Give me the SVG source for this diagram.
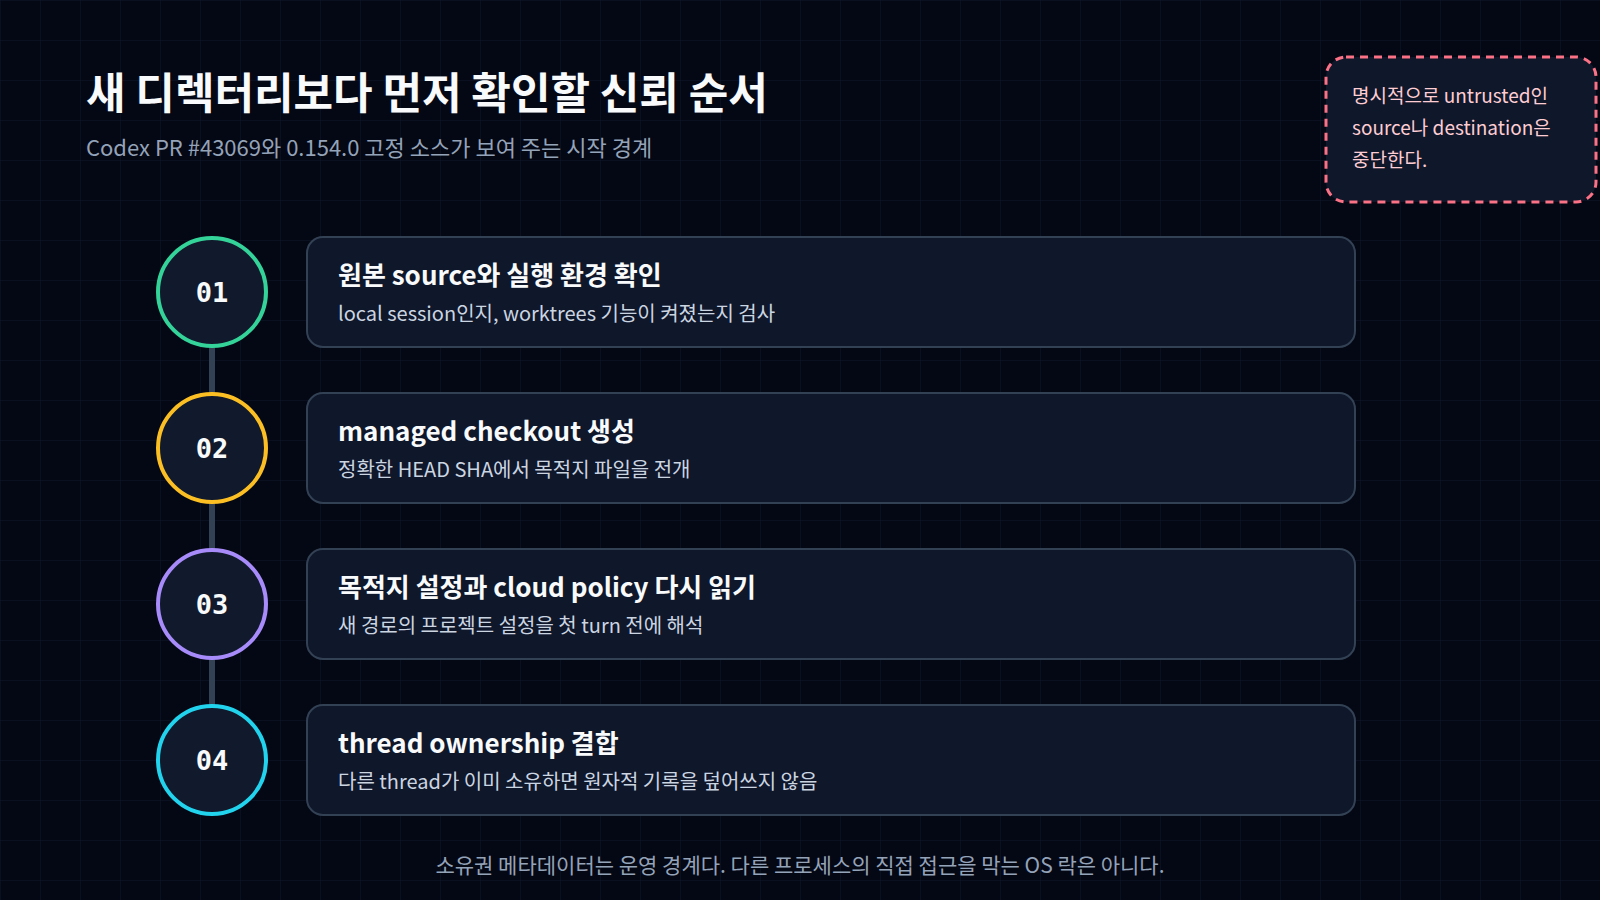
<svg xmlns="http://www.w3.org/2000/svg" width="1600" height="900" viewBox="0 0 1600 900">
  <defs>
    <pattern id="grid" x="0" y="0" width="40" height="40" patternUnits="userSpaceOnUse">
      <path d="M40 0H0V40" fill="none" stroke="#111a2b" stroke-width="1"/>
    </pattern>
    <style>
      .kr { font-family: "Noto Sans CJK KR", "Noto Sans", sans-serif; }
      .title { font-size: 43px; font-weight: 700; fill: #f8fafc; }
      .sub { font-size: 22px; font-weight: 400; fill: #94a3b8; }
      .card { fill: #0f172a; stroke: #334155; stroke-width: 2; }
      .ctitle { font-size: 26px; font-weight: 700; fill: #f8fafc; }
      .cdesc { font-size: 20px; font-weight: 400; fill: #cbd5e1; }
      .ring { fill: #111a2c; stroke-width: 4; }
      .num { font-family: "DejaVu Sans Mono", "Liberation Mono", monospace; font-size: 27px; font-weight: 700; fill: #f8fafc; text-anchor: middle; }
      .warn { fill: #0f172a; stroke: #fb7185; stroke-width: 3; stroke-dasharray: 8 6; }
      .wtext { font-size: 19px; font-weight: 400; fill: #fecdd3; }
      .foot { font-size: 21px; font-weight: 400; fill: #94a3b8; text-anchor: middle; }
    </style>
  </defs>
  <rect width="1600" height="900" fill="#040714"/>
  <rect width="1600" height="900" fill="url(#grid)"/>

  <g id="header">
    <text class="kr title" x="86" y="109">새 디렉터리보다 먼저 확인할 신뢰 순서</text>
    <text class="kr sub" x="86" y="156">Codex PR #43069와 0.154.0 고정 소스가 보여 주는 시작 경계</text>
  </g>

  <g id="warning">
    <rect class="warn" x="1326" y="57" width="270" height="145" rx="20"/>
    <text class="kr wtext" x="1352" y="103">명시적으로 untrusted인</text>
    <text class="kr wtext" x="1352" y="135">source나 destination은</text>
    <text class="kr wtext" x="1352" y="167">중단한다.</text>
  </g>

  <g id="connectors">
    <line x1="212" y1="292" x2="212" y2="760" stroke="#334155" stroke-width="6"/>
  </g>

  <g id="step1">
    <circle class="ring" cx="212" cy="292" r="54" stroke="#34d399"/>
    <text class="num" x="212" y="302">01</text>
    <rect class="card" x="307" y="237" width="1048" height="110" rx="16"/>
    <text class="kr ctitle" x="338" y="285">원본 source와 실행 환경 확인</text>
    <text class="kr cdesc" x="338" y="321">local session인지, worktrees 기능이 켜졌는지 검사</text>
  </g>

  <g id="step2">
    <circle class="ring" cx="212" cy="448" r="54" stroke="#fbbf24"/>
    <text class="num" x="212" y="458">02</text>
    <rect class="card" x="307" y="393" width="1048" height="110" rx="16"/>
    <text class="kr ctitle" x="338" y="441">managed checkout 생성</text>
    <text class="kr cdesc" x="338" y="477">정확한 HEAD SHA에서 목적지 파일을 전개</text>
  </g>

  <g id="step3">
    <circle class="ring" cx="212" cy="604" r="54" stroke="#a78bfa"/>
    <text class="num" x="212" y="614">03</text>
    <rect class="card" x="307" y="549" width="1048" height="110" rx="16"/>
    <text class="kr ctitle" x="338" y="597">목적지 설정과 cloud policy 다시 읽기</text>
    <text class="kr cdesc" x="338" y="633">새 경로의 프로젝트 설정을 첫 turn 전에 해석</text>
  </g>

  <g id="step4">
    <circle class="ring" cx="212" cy="760" r="54" stroke="#22d3ee"/>
    <text class="num" x="212" y="770">04</text>
    <rect class="card" x="307" y="705" width="1048" height="110" rx="16"/>
    <text class="kr ctitle" x="338" y="753">thread ownership 결합</text>
    <text class="kr cdesc" x="338" y="789">다른 thread가 이미 소유하면 원자적 기록을 덮어쓰지 않음</text>
  </g>

  <g id="footer">
    <text class="kr foot" x="800" y="873">소유권 메타데이터는 운영 경계다. 다른 프로세스의 직접 접근을 막는 OS 락은 아니다.</text>
  </g>
</svg>
